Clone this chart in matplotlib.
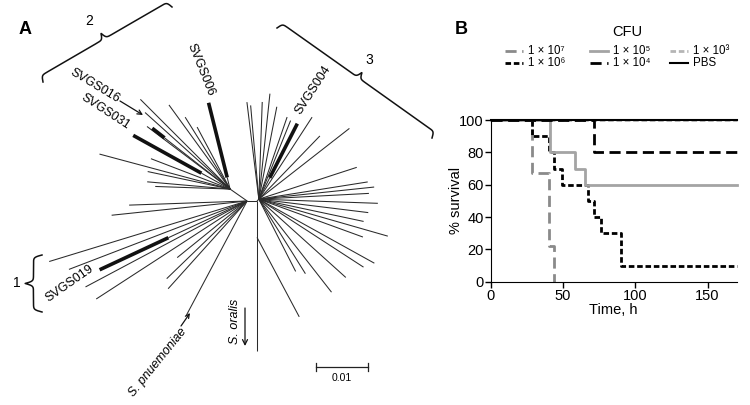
import numpy as np
import matplotlib.pyplot as plt
from matplotlib.patches import FancyArrowPatch

plt.rcParams['font.family'] = ['Liberation Sans', 'DejaVu Sans']

# ---- Panel A: unrooted tree
# leaves per internal node: angle (deg), branch length (x 0.001 subst./site)
right_ang = [97, 95, 88, 84, 79, 71, 68, 57, 46, 38, 18, 9, 6, 3, -2, -7, -12, -16, -20,
             -29, -33, -42, -52, -58, -63]
right_len = [18.8, 18.1, 18.7, 20.4, 18.1, 16.7, 16.3, 18.8, 16.9, 22.1, 19.8, 21.2, 22.3,
             21.2, 22.9, 21.2, 20.6, 25.8, 21.3, 25.4, 24.0, 22.5, 22.7, 16.9, 15.6]
upleft_ang = [135, 126, 122, 143, 165, 168, 159, 175, 178, 118, 138]
upleft_len = [24.4, 20.0, 16.3, 20.0, 26.0, 16.2, 16.3, 16.0, 14.4, 13.5, 22.0]
lowleft_ang = [182, 186, 197, 201, 208, 213, 219, 224, 228]
lowleft_len = [22.7, 26.2, 39.8, 36.7, 35.2, 34.6, 17.3, 21.5, 22.7]

# highlighted isolates
strain_names = ['SVGS004', 'SVGS016', 'SVGS031', 'SVGS006', 'SVGS019']
strain_node = ['R', 'L', 'L', 'L', 'M']
strain_ang = [63, 142, 151, 104, 205]
strain_len = [16.3, 19.0, 21.3, 17.1, 31.3]
strain_thick_from = [4.6, 16.0, 6.3, 2.3, 16.7]

# reference species
pneumo_ang, pneumo_len = 242, 25.0
oralis_len = 28.8
side_at, side_ang, side_len = 7.0, -62, 17.3

# internal nodes: name, parent, angle, length
nodes = [('M', 'C', 180, 1.9), ('L', 'M', 145, 4.0), ('R', 'C', 45, 0.5)]

# ---- Panel B: survival curves
t_1e7 = [0, 28.5, 40.5, 43.5]
s_1e7 = [100, 67, 22, 0]
t_1e6 = [0, 28.5, 40.5, 43.5, 49, 67, 71.5, 76.5, 90, 170]
s_1e6 = [100, 90, 80, 70, 60, 50, 40, 30, 10, 10]
t_1e5 = [0, 41, 58, 65, 170]
s_1e5 = [100, 80, 70, 60, 60]
t_1e4 = [0, 71.5, 170]
s_1e4 = [100, 80, 80]
t_1e3 = [0, 170]
s_1e3 = [100, 100]
t_pbs = [0, 170]
s_pbs = [100, 100]
leg_labels = ['1 × 10⁷', '1 × 10⁶', '1 × 10⁵', '1 × 10⁴', '1 × 10³', 'PBS']


def pol(p, ang, ln):
    a = np.radians(ang)
    return (p[0] + ln * np.cos(a), p[1] + ln * np.sin(a))


def fx(x, y):
    return np.asarray(x) / 750, 1 - np.asarray(y) / 405


fig = plt.figure(figsize=(7.5, 4.05), dpi=100)
axA = fig.add_axes([0, 0, 470 / 750, 1])
axA.set_xlim(-257 / 5.2, 213 / 5.2)
axA.set_ylim(-204 / 5.2, 201 / 5.2)
axA.axis('off')

thin = dict(color='#2a2a2a', lw=0.75, solid_capstyle='butt')
pos = {'C': (0.0, 0.0)}
for name, parent, ang, ln in nodes:
    pos[name] = pol(pos[parent], ang, ln)
    axA.plot([pos[parent][0], pos[name][0]], [pos[parent][1], pos[name][1]], **thin)

for hub, angs, lens in [('R', right_ang, right_len), ('L', upleft_ang, upleft_len),
                        ('M', lowleft_ang, lowleft_len)]:
    for a, l in zip(angs, lens):
        tip = pol(pos[hub], a, l)
        axA.plot([pos[hub][0], tip[0]], [pos[hub][1], tip[1]], **thin)

for nm, hub, a, l, t0 in zip(strain_names, strain_node, strain_ang, strain_len, strain_thick_from):
    mid = pol(pos[hub], a, t0)
    tip = pol(pos[hub], a, l)
    axA.plot([pos[hub][0], mid[0]], [pos[hub][1], mid[1]], **thin)
    axA.plot([mid[0], tip[0]], [mid[1], tip[1]], color='#111111', lw=2.6, solid_capstyle='butt')

tip = pol(pos['M'], pneumo_ang, pneumo_len)
axA.plot([pos['M'][0], tip[0]], [pos['M'][1], tip[1]], **thin)
axA.plot([0, 0], [0, -oralis_len], **thin)
s0 = (0, -side_at)
tip = pol(s0, side_ang, side_len)
axA.plot([s0[0], tip[0]], [s0[1], tip[1]], **thin)

# scale bar 0.01 = 10 units
sx, sy = (316 - 257) / 5.2, (201 - 367) / 5.2
axA.plot([sx, sx + 10], [sy, sy], color='#222', lw=0.9)
for xx in (sx, sx + 10):
    axA.plot([xx, xx], [sy - 0.7, sy + 0.7], color='#222', lw=0.9)
fig.text(*fx(342, 378), '0.01', fontsize=7.5, ha='center', va='center')


def brace(p0, p1, depth, k=0.9):
    p0 = np.array(p0, float)
    p1 = np.array(p1, float)
    d = p1 - p0
    L = np.hypot(*d)
    u = d / L
    n = np.array([u[1], -u[0]])
    s = np.linspace(0, L, 600)
    half = np.minimum(s, L - s)
    h = 1 / (1 + np.exp(-k * half)) + 1 / (1 + np.exp(-k * (half - L / 2))) - 0.5
    pts = p0[None, :] + s[:, None] * u[None, :] + (depth * h)[:, None] * n[None, :]
    xs, ys = fx(pts[:, 0], pts[:, 1])
    fig.add_artist(plt.Line2D(xs, ys, color='#111', lw=1.1, transform=fig.transFigure))


brace((43, 82), (172, 7), 13)
brace((277, 28), (432, 138), 13)
brace((42, 312), (42, 255), 17)
fig.text(*fx(89, 21), '2', fontsize=10, ha='center', va='center')
fig.text(*fx(369, 60), '3', fontsize=10, ha='center', va='center')
fig.text(*fx(17, 283), '1', fontsize=10, ha='center', va='center')

lab = dict(fontsize=9, ha='center', va='center', rotation_mode='anchor')
fig.text(*fx(95, 86), 'SVGS016', rotation=-31, **lab)
fig.text(*fx(105, 112), 'SVGS031', rotation=-33, **lab)
fig.text(*fx(201, 70), 'SVGS006', rotation=-68, **lab)
fig.text(*fx(313, 90), 'SVGS004', rotation=57, **lab)
fig.text(*fx(70, 284), 'SVGS019', rotation=35, **lab)
fig.text(*fx(158, 362), 'S. pnuemoniae', rotation=51, style='italic', **lab)
fig.text(*fx(235, 321), 'S. oralis', rotation=90, style='italic', **lab)

arr = dict(arrowstyle='->', color='#111', lw=0.9, shrinkA=0, shrinkB=0, transform=fig.transFigure)
fig.add_artist(FancyArrowPatch(fx(120, 101), fx(143, 115), mutation_scale=8, **arr))
fig.add_artist(FancyArrowPatch(fx(245, 308), fx(245, 346), mutation_scale=9, **arr))
fig.add_artist(FancyArrowPatch(fx(181, 326), fx(190, 313), mutation_scale=7, **arr))

fig.text(*fx(25, 29), 'A', fontsize=13, fontweight='bold', ha='center', va='center')
fig.text(*fx(461, 29), 'B', fontsize=13, fontweight='bold', ha='center', va='center')

# ---- Panel B
axB = fig.add_axes([490.7 / 750, (405 - 281.7) / 405, 245.8 / 750, 161.7 / 405])
h7, = axB.step(t_1e7, s_1e7, where='post', color='#8a8a8a', lw=2, dashes=(4, 2), clip_on=False)
h6, = axB.step(t_1e6, s_1e6, where='post', color='black', lw=2, dashes=(2, 1), clip_on=False)
h3, = axB.step(t_1e3, s_1e3, where='post', color='#b5b5b5', lw=2, dashes=(2, 1), clip_on=False)
h5, = axB.step(t_1e5, s_1e5, where='post', color='#a4a4a4', lw=2, clip_on=False)
h4, = axB.step(t_1e4, s_1e4, where='post', color='black', lw=2, dashes=(4, 2), clip_on=False)
hp, = axB.step(t_pbs, s_pbs, where='post', color='black', lw=1.5, clip_on=False)

axB.set_xlim(0, 170)
axB.set_ylim(0, 100)
axB.set_xticks([0, 50, 100, 150])
axB.set_yticks([0, 20, 40, 60, 80, 100])
for s in ('top', 'right'):
    axB.spines[s].set_visible(False)
axB.tick_params(direction='out', length=4, width=1, labelsize=10.5, pad=1)
axB.set_xlabel('Time, h', fontsize=10.5, labelpad=0)
axB.set_ylabel('% survival', fontsize=10.5, labelpad=-3)

# legend, laid out by hand: 3 columns x 2 rows
fig.text(*fx(627, 32), 'CFU', fontsize=10.5, ha='center', va='center')
col_x = [505, 590, 670]
row_y = [51, 63]
for i, (h, txt) in enumerate(zip([h7, h6, h5, h4, h3, hp], leg_labels)):
    x0, y0 = col_x[i // 2], row_y[i % 2]
    xs, ys = fx([x0, x0 + 18], [y0, y0])
    ln = plt.Line2D(xs, ys)
    ln.update_from(h)
    ln.set_transform(fig.transFigure)
    ln.set_data(xs, ys)
    fig.add_artist(ln)
    fig.text(*fx(x0 + 23, y0), txt, fontsize=8.3, ha='left', va='center')

fig.savefig('out.png', dpi=100)
